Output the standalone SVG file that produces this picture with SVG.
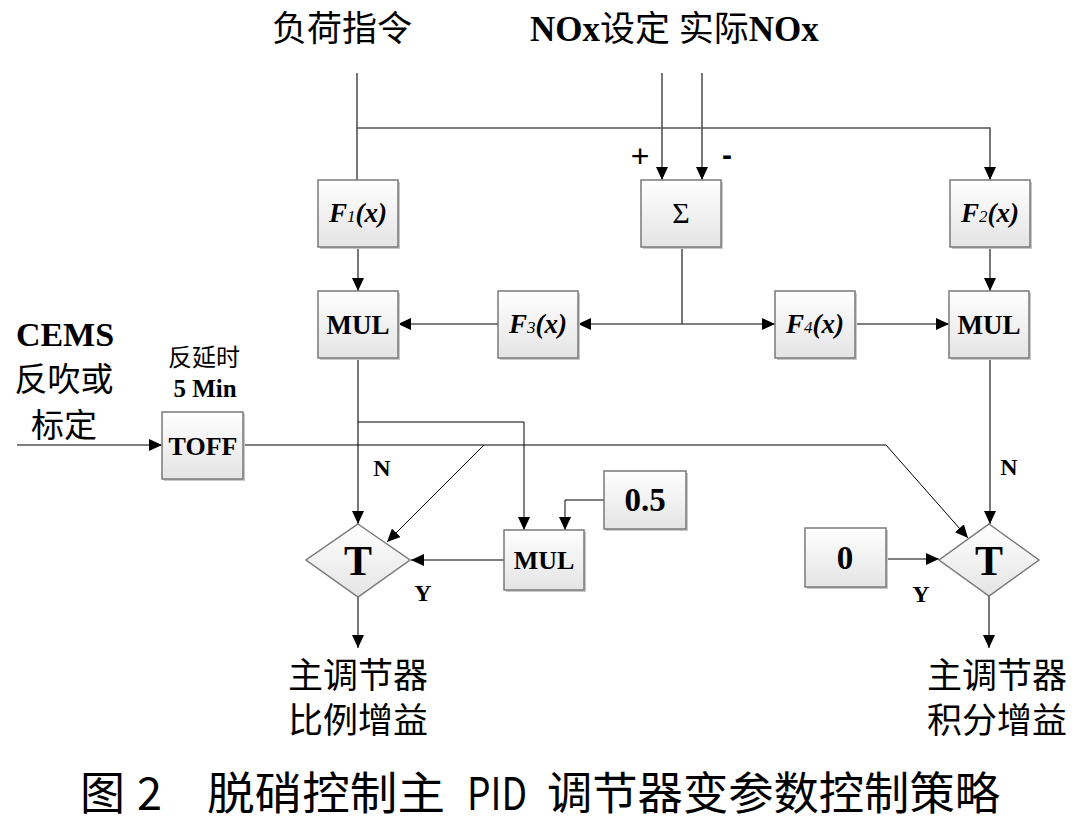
<svg xmlns="http://www.w3.org/2000/svg" width="1080" height="823" viewBox="0 0 1080 823">
<style>
.box{fill:url(#g);stroke:#7a7a7a;stroke-width:1.5}
.sh{fill:#c8c8c8}
.ln{fill:none;stroke:#555;stroke-width:1.6}
.lk{fill:none;stroke:#000;stroke-width:1}
.cjk{font-family:"Liberation Serif","Noto Sans CJK SC",serif;fill:#000}
.bt{font-family:"Liberation Serif",serif;font-weight:bold;fill:#000}
.fx{font-family:"Liberation Serif",serif;font-weight:bold;font-style:italic;font-size:27px;fill:#000}
.sub{font-weight:normal;font-size:17px}
.lbl{font-family:"Liberation Serif",serif;font-weight:bold;font-size:24px;fill:#000}
.cap{font-family:"Noto Sans CJK SC",sans-serif;font-size:45px;fill:#000}
</style>
<defs>
<linearGradient id="g" x1="0" y1="0" x2="0" y2="1">
<stop offset="0" stop-color="#ffffff"/>
<stop offset="1" stop-color="#e4e4e4"/>
</linearGradient>
<marker id="a" markerUnits="userSpaceOnUse" markerWidth="14" markerHeight="12" refX="13" refY="6" orient="auto">
<path d="M0,0 L13,6 L0,12 Z" fill="#000"/>
</marker>
</defs>
<rect width="1080" height="823" fill="#fff"/>

<g id="connectors">
<path class="ln" d="M357,73 V180"/>
<path class="ln" d="M357,128 H990 V180" marker-end="url(#a)"/>
<path class="ln" d="M662,73 V180" marker-end="url(#a)"/>
<path class="ln" d="M702,73 V180" marker-end="url(#a)"/>
<path class="ln" d="M358,247 V291" marker-end="url(#a)"/>
<path class="ln" d="M990,247 V291" marker-end="url(#a)"/>
<path class="ln" d="M682,247 V324 H578" marker-end="url(#a)"/>
<path class="ln" d="M682,324 H775" marker-end="url(#a)"/>
<path class="ln" d="M498,324 H398" marker-end="url(#a)"/>
<path class="ln" d="M856,324 H949" marker-end="url(#a)"/>
<path class="ln" d="M358,358 V524" marker-end="url(#a)"/>
<path class="ln" d="M990,358 V524" marker-end="url(#a)"/>
<path class="lk" d="M358,422 H524 V530" marker-end="url(#a)"/>
<path class="lk" d="M604,500 H565 V530" marker-end="url(#a)"/>
<path class="lk" d="M17,445 H162" marker-end="url(#a)"/>
<path class="lk" d="M243,445 H886 L968,538" marker-end="url(#a)"/>
<path class="lk" d="M484,445 L387,542" marker-end="url(#a)"/>
<path class="ln" d="M504,560 H411" marker-end="url(#a)"/>
<path class="ln" d="M886,559 H939" marker-end="url(#a)"/>
<path class="ln" d="M358,597 V648" marker-end="url(#a)"/>
<path class="ln" d="M989,596 V648" marker-end="url(#a)"/>
</g>

<g id="top-labels">
<text class="cjk" style="font-size:35px" x="272" y="41">负荷指令</text>
<text class="cjk" style="font-size:35px" x="530" y="41"><tspan font-weight="bold">NOx</tspan>设定 实际<tspan font-weight="bold">NOx</tspan></text>
<text x="640" y="167" font-family="Liberation Sans,sans-serif" font-size="32" text-anchor="middle">+</text>
<text x="727" y="165" font-family="Liberation Sans,sans-serif" font-size="30" font-weight="bold" text-anchor="middle">-</text>
</g>

<g id="F1">
<rect class="sh" x="320" y="182" width="80" height="67"/>
<rect class="box" x="318" y="180" width="80" height="67"/>
<text class="fx" x="358" y="222" text-anchor="middle">F<tspan class="sub">1</tspan>(x)</text>
</g>
<g id="Sigma">
<rect class="sh" x="643" y="182" width="80" height="67"/>
<rect class="box" x="641" y="180" width="80" height="67"/>
<text x="681" y="223" font-family="Liberation Serif,serif" font-size="30" text-anchor="middle">Σ</text>
</g>
<g id="F2">
<rect class="sh" x="952" y="182" width="80" height="67"/>
<rect class="box" x="950" y="180" width="80" height="67"/>
<text class="fx" x="990" y="222" text-anchor="middle">F<tspan class="sub">2</tspan>(x)</text>
</g>
<g id="MUL1">
<rect class="sh" x="320" y="293" width="80" height="67"/>
<rect class="box" x="318" y="291" width="80" height="67"/>
<text class="bt" x="358" y="334" font-size="27" text-anchor="middle">MUL</text>
</g>
<g id="F3">
<rect class="sh" x="500" y="293" width="80" height="67"/>
<rect class="box" x="498" y="291" width="80" height="67"/>
<text class="fx" x="538" y="333" text-anchor="middle">F<tspan class="sub">3</tspan>(x)</text>
</g>
<g id="F4">
<rect class="sh" x="777" y="293" width="80" height="67"/>
<rect class="box" x="775" y="291" width="80" height="67"/>
<text class="fx" x="815" y="333" text-anchor="middle">F<tspan class="sub">4</tspan>(x)</text>
</g>
<g id="MUL2">
<rect class="sh" x="951" y="293" width="80" height="67"/>
<rect class="box" x="949" y="291" width="80" height="67"/>
<text class="bt" x="989" y="334" font-size="27" text-anchor="middle">MUL</text>
</g>

<g id="CEMS">
<text class="bt" x="65" y="346" font-size="34" text-anchor="middle">CEMS</text>
<text class="cjk" style="font-size:33px" x="64" y="391" text-anchor="middle">反吹或</text>
<text class="cjk" style="font-size:33px" x="64" y="437" text-anchor="middle">标定</text>
</g>
<g id="TOFF">
<text class="cjk" style="font-size:24px" x="204" y="366" text-anchor="middle">反延时</text>
<text class="bt" x="205" y="397" font-size="25" text-anchor="middle">5 Min</text>
<rect class="sh" x="164" y="414" width="81" height="67"/>
<rect class="box" x="162" y="412" width="81" height="67"/>
<text class="bt" x="203" y="455" font-size="26" text-anchor="middle">TOFF</text>
</g>

<g id="MUL3">
<rect class="sh" x="506" y="532" width="80" height="60"/>
<rect class="box" x="504" y="530" width="80" height="60"/>
<text class="bt" x="544" y="569" font-size="26" text-anchor="middle">MUL</text>
</g>
<g id="C05">
<rect class="sh" x="606" y="473" width="82" height="58"/>
<rect class="box" x="604" y="471" width="82" height="58"/>
<text class="bt" x="645" y="511" font-size="33" text-anchor="middle">0.5</text>
</g>
<g id="C0">
<rect class="sh" x="807" y="530" width="81" height="59"/>
<rect class="box" x="805" y="528" width="81" height="59"/>
<text class="bt" x="845" y="569" font-size="33" text-anchor="middle">0</text>
</g>

<g id="T1">
<path class="box" d="M358,524 L410,560 L358,597 L306,560 Z"/>
<text class="bt" x="358" y="575" font-size="42" text-anchor="middle">T</text>
<text class="lbl" x="382" y="476" text-anchor="middle">N</text>
<text class="lbl" x="423" y="601" text-anchor="middle">Y</text>
</g>
<g id="T2">
<path class="box" d="M989,524 L1039,560 L989,596 L939,560 Z"/>
<text class="bt" x="989" y="575" font-size="42" text-anchor="middle">T</text>
<text class="lbl" x="1009" y="475" text-anchor="middle">N</text>
<text class="lbl" x="921" y="602" text-anchor="middle">Y</text>
</g>

<g id="outputs">
<text class="cjk" style="font-size:35px" x="358" y="688" text-anchor="middle">主调节器</text>
<text class="cjk" style="font-size:35px" x="358" y="733" text-anchor="middle">比例增益</text>
<text class="cjk" style="font-size:35px" x="997" y="688" text-anchor="middle">主调节器</text>
<text class="cjk" style="font-size:35px" x="997" y="733" text-anchor="middle">积分增益</text>
</g>

<g id="caption">
<text class="cap" x="80" y="810">图</text>
<text class="cap" x="137" y="810">2</text>
<text class="cap" x="207" y="810" textLength="238" lengthAdjust="spacingAndGlyphs">脱硝控制主</text>
<text class="cap" x="467" y="810" textLength="60" lengthAdjust="spacingAndGlyphs">PID</text>
<text class="cap" x="547" y="810" textLength="453" lengthAdjust="spacingAndGlyphs">调节器变参数控制策略</text>
</g>
</svg>
